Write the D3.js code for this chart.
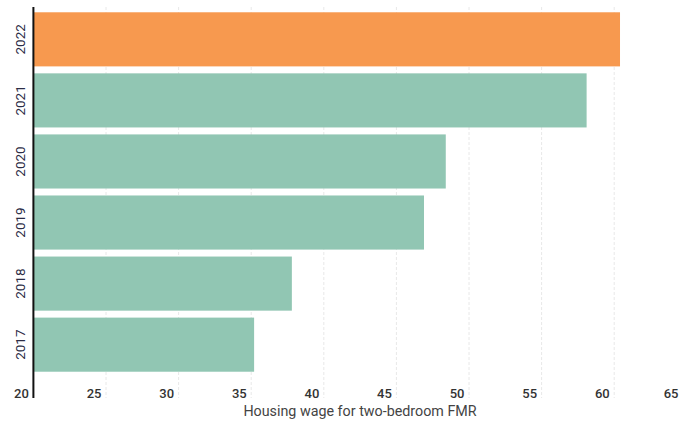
<!DOCTYPE html>
<html>
<head>
<meta charset="utf-8">
<script src="https://cdn.jsdelivr.net/npm/d3@7"></script>
<style>
  html, body { margin: 0; padding: 0; background: #fff; }
  svg { display: block; font-family: Roboto, "Noto Sans", sans-serif; }
</style>
</head>
<body>
<svg id="chart" width="679" height="423"></svg>
<script>
const years = ["2022", "2021", "2020", "2019", "2018", "2017"];
const wages = [60.4, 58.1, 48.4, 46.9, 37.8, 35.2];
const highlightYear = "2022";
const xTicks = [20, 25, 30, 35, 40, 45, 50, 55, 60, 65];
const xTitle = "Housing wage for two-bedroom FMR";

const data = years.map((y, i) => ({ year: y, value: wages[i] }));

const W = 679;
const svg = d3.select("#chart");
const x = d3.scaleLinear().domain([20, 65]).range([33.4, 686.8]);
const y = d3.scaleBand().domain(years).range([8.8, 375.2])
  .paddingInner(0.114).paddingOuter(0.057);

const gridTop = 7, gridBottom = 398;

// gridlines
svg.append("g").selectAll("line")
  .data(xTicks.slice(1))
  .join("line")
  .attr("x1", d => x(d)).attr("x2", d => x(d))
  .attr("y1", gridTop).attr("y2", gridBottom)
  .attr("stroke", "#e8e8e8")
  .attr("stroke-width", 1)
  .attr("stroke-dasharray", "3,2");

// bars
svg.append("g").selectAll("rect")
  .data(data)
  .join("rect")
  .attr("x", x(20))
  .attr("y", d => y(d.year))
  .attr("width", d => x(d.value) - x(20))
  .attr("height", y.bandwidth())
  .attr("fill", d => d.year === highlightYear ? "#F7994F" : "#91C6B3");

// x axis tick labels
const xAxis = d3.axisBottom(x).tickValues(xTicks).tickSize(0).tickFormat(d3.format("d"));
const gx = svg.append("g").attr("transform", `translate(0,${386})`).call(xAxis);
gx.select(".domain").remove();
gx.selectAll("text")
  .attr("text-anchor", "end")
  .attr("x", d => Math.min(-5, (W - 1) - x(d)))
  .attr("dy", "0.71em")
  .attr("font-size", 13)
  .attr("font-weight", 500)
  .attr("fill", "#333")
  .style("font-family", "Roboto, sans-serif");

// y axis labels (rotated)
const yAxis = d3.axisLeft(y).tickSize(0);
const gy = svg.append("g").attr("transform", `translate(20,0)`).call(yAxis);
gy.select(".domain").remove();
gy.selectAll("text")
  .attr("transform", "rotate(-90)")
  .attr("x", 0).attr("y", 0)
  .attr("dy", "0.35em")
  .attr("text-anchor", "middle")
  .attr("font-size", 13.5)
  .attr("fill", "#2b2c45")
  .style("font-family", "Roboto, sans-serif");

// vertical baseline
svg.append("line")
  .attr("x1", x(20)).attr("x2", x(20))
  .attr("y1", gridTop).attr("y2", gridBottom)
  .attr("stroke", "#111").attr("stroke-width", 2);

// x title
svg.append("text")
  .attr("x", 360).attr("y", 416)
  .attr("text-anchor", "middle")
  .attr("font-size", 14.3)
  .attr("fill", "#444")
  .text(xTitle);
</script>
</body>
</html>
